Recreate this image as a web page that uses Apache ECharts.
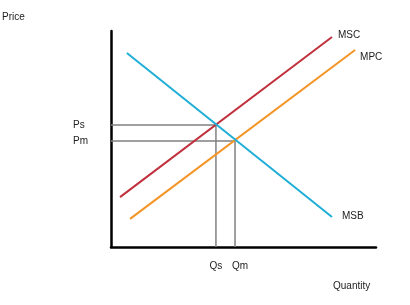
<!DOCTYPE html>
<html>
<head>
<meta charset="utf-8">
<script src="https://cdn.jsdelivr.net/npm/echarts@6/dist/echarts.min.js"></script>
<style>html,body{margin:0;padding:0;background:#fff}#c{width:410px;height:305px}</style>
</head>
<body>
<div id="c"></div>
<script>
// Curve endpoints [quantity, price] in chart units (0-100)
const msc = [[3.4, 23.1], [83.4, 97.2]];
const mpc = [[7.2, 13.0], [92.1, 91.2]];
const msb = [[6.0, 89.8], [83.4, 13.9]];
// Equilibria
const Ps = 56.5, Qs = 39.6;
const Pm = 49.1, Qm = 46.8;
const priceTicks = [Ps, Pm];
const priceTickNames = ['Ps', 'Pm'];
const qtyTicks = [Qs, Qm];
const qtyTickNames = ['Qs', 'Qm'];

const font = 'Liberation Sans, Arial, sans-serif';
const txt = '#222';
const fs = 10;
const chart = echarts.init(document.getElementById('c'));

function curve(name, data, color, offset) {
  return {
    type: 'line', name, data, symbol: 'none', silent: true, z: 3,
    lineStyle: { color, width: 2 },
    endLabel: { show: true, formatter: name, color: txt, fontSize: fs, fontFamily: font, offset, align: 'left' }
  };
}

chart.setOption({
  animation: false,
  grid: { left: 111, right: 34, top: 31, bottom: 58 },
  xAxis: {
    type: 'value', min: 0, max: 100,
    axisLine: { show: true, lineStyle: { color: '#000', width: 2.5 } },
    axisTick: { show: false },
    splitLine: { show: false },
    axisLabel: {
      customValues: qtyTicks, margin: 14, color: txt, fontSize: fs, fontFamily: font,
      formatter: v => {
        const i = qtyTicks.indexOf(v);
        return i === 1 ? '{m|' + qtyTickNames[i] + '}' : qtyTickNames[i];
      },
      rich: { m: { padding: [0, 0, 0, 10], color: txt, fontSize: fs, fontFamily: font } }
    }
  },
  yAxis: {
    type: 'value', min: 0, max: 100,
    axisLine: { show: true, lineStyle: { color: '#000', width: 2.5 } },
    axisTick: { show: false },
    splitLine: { show: false },
    axisLabel: {
      customValues: priceTicks, margin: 38, align: 'left', color: txt, fontSize: fs, fontFamily: font,
      formatter: v => priceTickNames[priceTicks.indexOf(v)]
    }
  },
  graphic: [
    { type: 'text', left: 2, top: 12, style: { text: 'Price', fill: txt, fontSize: fs, fontFamily: font } },
    { type: 'text', left: 333, top: 281, style: { text: 'Quantity', fill: txt, fontSize: fs, fontFamily: font } }
  ],
  series: [
    { type: 'line', data: [[0, Ps], [Qs, Ps], [Qs, 0]], symbol: 'none', silent: true, z: 2,
      lineStyle: { color: '#808080', width: 1.5 } },
    { type: 'line', data: [[0, Pm], [Qm, Pm], [Qm, 0]], symbol: 'none', silent: true, z: 2,
      lineStyle: { color: '#808080', width: 1.5 } },
    curve('MSC', msc, '#c0313d', [-2, -2]),
    curve('MPC', mpc, '#f39425', [-3, 7]),
    curve('MSB', msb, '#1eaed6', [2, -1])
  ]
});
</script>
</body>
</html>
